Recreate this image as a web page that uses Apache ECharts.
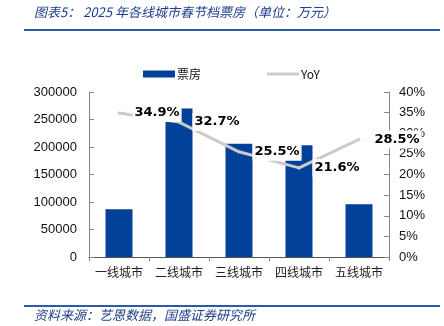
<!DOCTYPE html>
<html>
<head>
<meta charset="utf-8">
<script src="https://cdn.jsdelivr.net/npm/echarts@6/dist/echarts.min.js"></script>
<style>
  html, body { margin: 0; padding: 0; background: #fff; }
  #chart { width: 444px; height: 326px; }
</style>
</head>
<body>
<div id="chart"></div>
<script>
// 2025 Spring Festival box office by city tier (unit: 10k yuan)
const categories = ['一线城市', '二线城市', '三线城市', '四线城市', '五线城市'];
const boxOffice = [87000, 270000, 206000, 203000, 96000];
const yoy = [34.9, 32.7, 25.5, 21.6, 28.5];
const leftTicks = [0, 50000, 100000, 150000, 200000, 250000, 300000];
const rightTicks = [0, 5, 10, 15, 20, 25, 30, 35, 40];

const titleText = '图表5\uFF1A 2025 年各线城市春节档票房\uFF08单位\uFF1A万元\uFF09';
const sourceText = '资料来源\uFF1A艺恩数据\uFF0C国盛证券研究所';

const chart = echarts.init(document.getElementById('chart'), null, { renderer: 'canvas' });

const axisFont = { fontFamily: 'Liberation Sans', fontSize: 13, color: '#111' };

chart.setOption({
  backgroundColor: '#fff',
  animation: false,
  grid: { left: 89, right: 55, top: 92, bottom: 69 },
  legend: {
    top: 63,
    left: 138,
    itemGap: 66,
    itemWidth: 32,
    itemHeight: 7,
    symbolKeepAspect: true,
    textStyle: { fontFamily: 'Noto Sans CJK SC', fontSize: 12, color: '#111', padding: [0, 0, 0, -3] },
    data: [
      { name: '票房', icon: 'rect' },
      { name: 'YoY', icon: 'path://M0,0 H32 V3 H0 Z', itemStyle: { color: '#cbcbcb', opacity: 1 } }
    ]
  },
  xAxis: {
    type: 'category',
    data: categories,
    axisLine: { lineStyle: { color: '#555', width: 1 } },
    axisTick: { show: true, length: 4, lineStyle: { color: '#888' } },
    axisLabel: { interval: 0, fontFamily: 'Noto Sans CJK SC', fontSize: 12, color: '#222', margin: 9 }
  },
  yAxis: [
    {
      type: 'value',
      min: leftTicks[0],
      max: leftTicks[leftTicks.length - 1],
      interval: 50000,
      axisLine: { show: true, lineStyle: { color: '#888' } },
      axisTick: { show: true, inside: true, length: 5, lineStyle: { color: '#888' } },
      splitLine: { show: false },
      axisLabel: Object.assign({ margin: 12, formatter: v => String(v) }, axisFont)
    },
    {
      type: 'value',
      min: rightTicks[0],
      max: rightTicks[rightTicks.length - 1],
      interval: 5,
      axisLine: { show: true, lineStyle: { color: '#888' } },
      axisTick: { show: true, inside: true, length: 5, lineStyle: { color: '#888' } },
      splitLine: { show: false },
      axisLabel: Object.assign({ margin: 10, formatter: v => v + '%' }, axisFont)
    }
  ],
  series: [
    {
      name: '票房',
      type: 'bar',
      data: boxOffice,
      barWidth: 27,
      itemStyle: { color: '#024199' }
    },
    {
      name: 'YoY',
      type: 'line',
      yAxisIndex: 1,
      data: yoy,
      symbol: 'circle',
      symbolSize: 3,
      showSymbol: true,
      lineStyle: { color: '#cbcbcb', width: 3 },
      itemStyle: { color: '#cbcbcb' },
      label: {
        show: true,
        position: 'right',
        distance: 12,
        formatter: p => p.value.toFixed(1) + '%',
        fontFamily: 'DejaVu Sans',
        fontWeight: 'bold',
        fontSize: 13,
        color: '#000',
        backgroundColor: '#fff',
        padding: [3, 2, 2, 2]
      },
      labelLayout: { hideOverlap: false },
      z: 5
    }
  ],
  graphic: [
    {
      type: 'text',
      left: 34,
      top: 6,
      style: {
        text: titleText,
        font: 'italic 13px "Noto Sans CJK SC"',
        fill: '#1f3f8a'
      }
    },
    {
      type: 'rect',
      shape: { x: 24, y: 29, width: 416, height: 2 },
      style: { fill: '#2a5aa8' }
    },
    {
      type: 'rect',
      shape: { x: 24, y: 305, width: 416, height: 2 },
      style: { fill: '#2a5aa8' }
    },
    {
      type: 'text',
      left: 34,
      top: 309,
      style: {
        text: sourceText,
        font: 'italic 13px "Noto Sans CJK SC"',
        fill: '#1f3f8a'
      }
    }
  ]
});
</script>
</body>
</html>
